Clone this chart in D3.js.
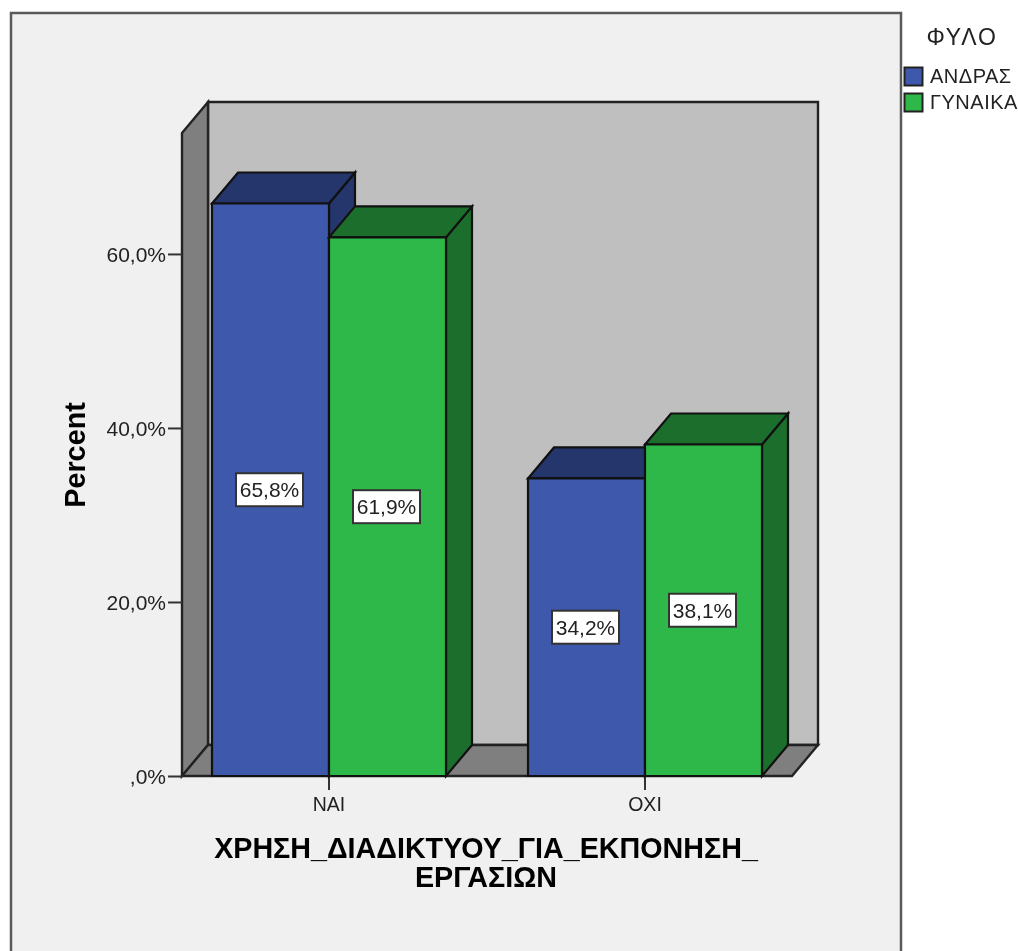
<!DOCTYPE html>
<html><head><meta charset="utf-8">
<style>
html,body{margin:0;padding:0;background:#fff;overflow:hidden}
svg{display:block;filter:blur(0.55px)}
text{font-family:"Liberation Sans",Arial,sans-serif;fill:#222}
</style>
<script src="https://cdnjs.cloudflare.com/ajax/libs/d3/7.8.5/d3.min.js"></script>
</head><body>
<script>
const categories = ["ΝΑΙ", "ΟΧΙ"];
const seriesNames = ["ΑΝΔΡΑΣ", "ΓΥΝΑΙΚΑ"];
const maleValues = [65.8, 34.2];
const femaleValues = [61.9, 38.1];
const seriesValues = [maleValues, femaleValues];
const frontColors = ["#3e58ac", "#2fb84a"];
const shadeColors = ["#24366c", "#1c6e2c"];
const yTicks = [0, 20, 40, 60];
const xTitleLines = ["ΧΡΗΣΗ_ΔΙΑΔΙΚΤΥΟΥ_ΓΙΑ_ΕΚΠΟΝΗΣΗ_", "ΕΡΓΑΣΙΩΝ"];
const yTitle = "Percent";
const legendTitle = "ΦΥΛΟ";

const W = 1018, H = 951;
const dx = 26, dy = 31;
const left = 182, right = 792, y0px = 776, topPx = 133;
const fmt = v => (v === 0 ? "," : String(Math.trunc(v))) + (v === 0 ? "0" : "," + Math.round((v % 1) * 10)) + "%";

const y = d3.scaleLinear().domain([0, 73.9]).range([y0px, topPx]);
const x = d3.scaleBand().domain(categories).range([171, 803]);
const barW = 117;
const xs = d3.scaleBand().domain(seriesNames).range([0, 2 * barW]);
const stroke = "#111";

const svg = d3.select("body").append("svg").attr("width", W).attr("height", H);
svg.append("rect").attr("width", W).attr("height", H).attr("fill", "#fff");
svg.append("rect").attr("x", 11).attr("y", 13).attr("width", 890).attr("height", H + 20)
  .attr("fill", "#f0f0f0").attr("stroke", "#5a5a5a").attr("stroke-width", 2.5);

const poly = (pts, fill, sw = 2.2, s = stroke) => svg.append("polygon")
  .attr("points", pts.map(p => p.join(",")).join(" "))
  .attr("fill", fill).attr("stroke", s).attr("stroke-width", sw).attr("stroke-linejoin", "miter");

const yTop = y.range()[1];
// back wall, left wall, floor
poly([[left + dx, yTop - dy], [right + dx, yTop - dy], [right + dx, y0px - dy], [left + dx, y0px - dy]], "#bfbfbf", 2.4, "#222");
poly([[left, yTop], [left + dx, yTop - dy], [left + dx, y0px - dy], [left, y0px]], "#7f7f7f", 2.4, "#222");
poly([[left, y0px], [left + dx, y0px - dy], [right + dx, y0px - dy], [right, y0px]], "#7f7f7f", 2.4, "#222");

// ticks
const yAxis = svg.append("g").attr("transform", `translate(${left},0)`)
  .call(d3.axisLeft(y).tickValues(yTicks).tickSize(14).tickPadding(2).tickFormat(fmt));
yAxis.select(".domain").remove();
yAxis.selectAll("line").attr("stroke", "#333").attr("stroke-width", 2);
yAxis.selectAll("text").attr("font-size", 21).attr("fill", "#222").attr("dy", "0.36em");
yAxis.attr("font-family", null);

const xAxis = svg.append("g").attr("transform", `translate(0,${y0px})`)
  .call(d3.axisBottom(x).tickSize(14).tickPadding(7));
xAxis.select(".domain").remove();
xAxis.selectAll("line").attr("stroke", "#333").attr("stroke-width", 2);
xAxis.selectAll("text").attr("font-size", 19.5).attr("fill", "#222");
xAxis.attr("font-family", null);

// bars
categories.forEach((c, ci) => {
  const cx = x(c) + x.bandwidth() / 2 - barW;
  seriesNames.forEach((s, si) => {
    const v = seriesValues[si][ci];
    const x0 = cx + xs(s), x1 = x0 + xs.bandwidth(), yv = y(v);
    poly([[x1, yv], [x1 + dx, yv - dy], [x1 + dx, y0px - dy], [x1, y0px]], shadeColors[si]);
    poly([[x0, yv], [x0 + dx, yv - dy], [x1 + dx, yv - dy], [x1, yv]], shadeColors[si]);
    poly([[x0, yv], [x1, yv], [x1, y0px], [x0, y0px]], frontColors[si]);
  });
});
// labels
categories.forEach((c, ci) => {
  const cx = x(c) + x.bandwidth() / 2 - barW;
  seriesNames.forEach((s, si) => {
    const v = seriesValues[si][ci];
    const mx = cx + xs(s) + xs.bandwidth() / 2 - 1, my = y(v / 2);
    svg.append("rect").attr("x", mx - 33.5).attr("y", my - 16.5).attr("width", 67).attr("height", 33)
      .attr("fill", "#fff").attr("stroke", "#333").attr("stroke-width", 2);
    svg.append("text").attr("x", mx).attr("y", my).attr("dy", "0.36em").attr("text-anchor", "middle")
      .attr("font-size", 21).text(fmt(v));
  });
});

// titles
svg.append("text").attr("transform", "translate(85,455) rotate(-90)").attr("text-anchor", "middle")
  .attr("font-size", 28.8).attr("font-weight", "bold").style("fill", "#000").text(yTitle);
svg.selectAll(".xt").data(xTitleLines).join("text").attr("class", "xt")
  .attr("x", 486).attr("y", (d, i) => 858 + i * 29).attr("text-anchor", "middle")
  .attr("font-size", 28.7).attr("font-weight", "bold").style("fill", "#000").text(d => d);

// legend
svg.append("text").attr("x", 962).attr("y", 45).attr("text-anchor", "middle")
  .attr("font-size", 23).attr("letter-spacing", 1.8).text(legendTitle);
seriesNames.forEach((s, i) => {
  const ly = 67 + i * 26;
  svg.append("rect").attr("x", 904.5).attr("y", ly + .5).attr("width", 18).attr("height", 18)
    .attr("fill", frontColors[i]).attr("stroke", "#222").attr("stroke-width", 2);
  svg.append("text").attr("x", 930).attr("y", ly + 9).attr("dy", "0.36em")
    .attr("font-size", 20).attr("letter-spacing", 0.5).text(s);
});
</script>
</body></html>
